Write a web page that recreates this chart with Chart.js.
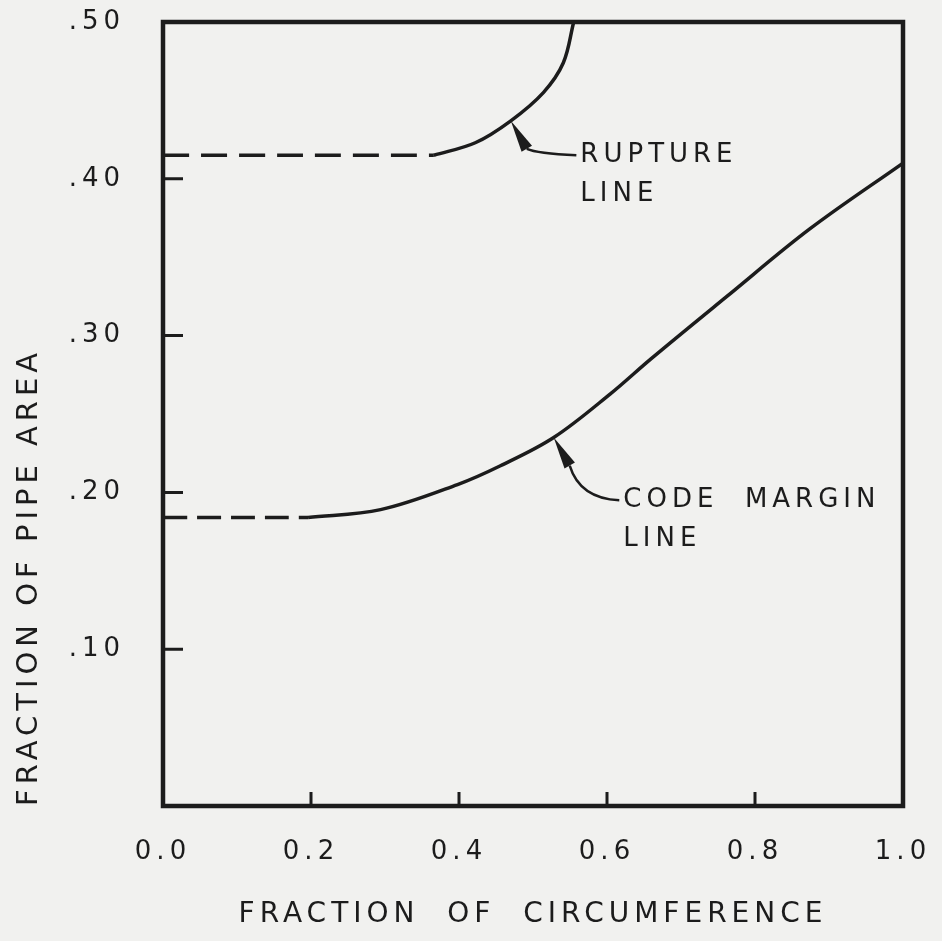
<!DOCTYPE html>
<html>
<head>
<meta charset="utf-8">
<script src="https://cdn.jsdelivr.net/npm/chart.js@4.4.1/dist/chart.umd.min.js"></script>
<style>
    html, body { margin: 0; padding: 0; background: #f1f1ef; }
    #wrap { width: 942px; height: 941px; }
</style>
</head>
<body>
<div id="wrap"><canvas id="chart" width="942" height="941"></canvas></div>
<script>
// Axis ticks
const xTicks = [0, 0.2, 0.4, 0.6, 0.8, 1.0];
const yTicks = [0.1, 0.2, 0.3, 0.4, 0.5];

// Rupture line (dashed part, then the solid curve)
const ruptureDashX = [0, 0.366];
const ruptureDashY = [0.415, 0.415];
const ruptureX = [0.366, 0.422, 0.47, 0.514, 0.541, 0.555];
const ruptureY = [0.415, 0.423, 0.437, 0.455, 0.474, 0.50];

// Code margin line
const codeDashX = [0, 0.196];
const codeDashY = [0.184, 0.184];
const codeX = [0.196, 0.294, 0.398, 0.456, 0.528, 0.605, 0.659, 0.762, 0.874, 1.0];
const codeY = [0.184, 0.189, 0.205, 0.217, 0.235, 0.263, 0.285, 0.325, 0.368, 0.41];

// Callout labels and the points on the curves they point at
const calloutText = [["RUPTURE", "LINE"], ["CODE  MARGIN", "LINE"]];
const calloutAt = [[0.564, 0.415], [0.622, 0.195]];
const calloutTip = [[0.47, 0.437], [0.528, 0.235]];

const INK = "#1c1c1c";
const FONT = "'DejaVu Sans', sans-serif";

function toPoints(xs, ys) {
    return xs.map((x, i) => ({ x: x, y: ys[i] }));
}

function lineSet(xs, ys, dash) {
    return {
        data: toPoints(xs, ys),
        showLine: true,
        borderColor: INK,
        borderWidth: 3.5,
        borderDash: dash,
        pointRadius: 0,
        tension: 0.35,
        borderCapStyle: "butt"
    };
}

// Frame, inward tick marks and the two callouts
const drawingPlugin = {
    id: "drawing",
    beforeDraw(chart) {
        chart.ctx.letterSpacing = "5px";
    },
    afterDraw(chart) {
        const ctx = chart.ctx;
        const area = chart.chartArea;
        const xs = chart.scales.x;
        const ys = chart.scales.y;
        ctx.save();
        ctx.strokeStyle = INK;
        ctx.fillStyle = INK;
        ctx.lineWidth = 4.5;
        ctx.strokeRect(area.left, area.top, area.right - area.left, area.bottom - area.top);

        ctx.lineWidth = 3;
        ctx.beginPath();
        yTicks.slice(0, 4).forEach(v => {
            const py = ys.getPixelForValue(v);
            ctx.moveTo(area.left, py);
            ctx.lineTo(area.left + 20, py);
        });
        xTicks.slice(1, 5).forEach(v => {
            const px = xs.getPixelForValue(v);
            ctx.moveTo(px, area.bottom);
            ctx.lineTo(px, area.bottom - 14);
        });
        ctx.stroke();

        ctx.font = "26px " + FONT;
        ctx.letterSpacing = "5px";
        ctx.textBaseline = "middle";
        ctx.textAlign = "left";
        calloutText.forEach((lines, i) => {
            const tx = xs.getPixelForValue(calloutAt[i][0]);
            const ty = ys.getPixelForValue(calloutAt[i][1]);
            lines.forEach((t, k) => ctx.fillText(t, tx, ty + k * 39));

            const tipX = xs.getPixelForValue(calloutTip[i][0]);
            const tipY = ys.getPixelForValue(calloutTip[i][1]);
            const baseX = tipX + 16;
            const baseY = tipY + 28;
            // leader
            ctx.lineWidth = 2.5;
            ctx.beginPath();
            ctx.moveTo(tx - 4, ty);
            ctx.quadraticCurveTo(baseX + 10, ty - 2, baseX, baseY);
            ctx.stroke();
            // arrow head
            const ang = Math.atan2(tipY - baseY, tipX - baseX);
            const w = 6;
            ctx.beginPath();
            ctx.moveTo(tipX, tipY);
            ctx.lineTo(baseX + Math.cos(ang + Math.PI / 2) * w, baseY + Math.sin(ang + Math.PI / 2) * w);
            ctx.lineTo(baseX + Math.cos(ang - Math.PI / 2) * w, baseY + Math.sin(ang - Math.PI / 2) * w);
            ctx.closePath();
            ctx.fill();
        });
        ctx.restore();
    }
};

new Chart(document.getElementById("chart"), {
    type: "scatter",
    data: {
        datasets: [
            lineSet(ruptureDashX, ruptureDashY, [26, 12]),
            lineSet(ruptureX, ruptureY, []),
            lineSet(codeDashX, codeDashY, [24, 10]),
            lineSet(codeX, codeY, [])
        ]
    },
    options: {
        responsive: false,
        animation: false,
        layout: { padding: { left: 0, top: 22, right: 39, bottom: 0 } },
        plugins: {
            legend: { display: false },
            tooltip: { enabled: false }
        },
        scales: {
            x: {
                type: "linear",
                min: 0,
                max: 1,
                grid: { display: false },
                border: { display: false },
                afterBuildTicks: s => { s.ticks = xTicks.map(v => ({ value: v })); },
                afterFit: s => { s.height = 135; s.paddingLeft = 0; s.paddingRight = 0; },
                ticks: {
                    color: INK,
                    padding: 23,
                    font: { family: FONT, size: 26 },
                    callback: v => Number(v).toFixed(1)
                },
                title: {
                    display: true,
                    text: "FRACTION  OF  CIRCUMFERENCE",
                    color: INK,
                    font: { family: FONT, size: 28 },
                    padding: { top: 0, bottom: 9 }
                }
            },
            y: {
                type: "linear",
                min: 0,
                max: 0.5,
                grid: { display: false },
                border: { display: false },
                afterBuildTicks: s => { s.ticks = yTicks.map(v => ({ value: v })); },
                afterFit: s => { s.width = 163; s.paddingTop = 0; s.paddingBottom = 0; },
                ticks: {
                    color: INK,
                    padding: 30,
                    font: { family: FONT, size: 26 },
                    callback: v => Number(v).toFixed(2).slice(1)
                },
                title: {
                    display: true,
                    text: "FRACTION OF PIPE AREA",
                    align: "start",
                    color: INK,
                    font: { family: FONT, size: 29 },
                    padding: { top: 12, bottom: 0 }
                }
            }
        }
    },
    plugins: [drawingPlugin]
});
</script>
</body>
</html>
